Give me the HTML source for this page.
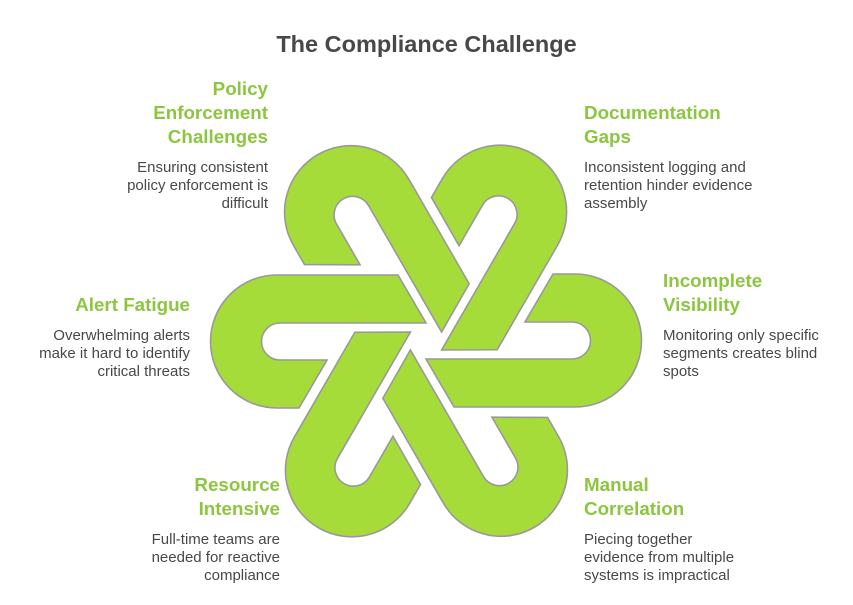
<!DOCTYPE html>
<html><head><style>
body{margin:0;width:853px;height:605px;background:#fff;font-family:"Liberation Sans",sans-serif;position:relative;overflow:hidden}
.t{position:absolute;left:0;width:853px;text-align:center;top:31px;font-size:23.5px;font-weight:bold;color:#484848}
.b{position:absolute;width:240px}
.b h{display:block;font-size:18.8px;font-weight:bold;color:#8cc63f;line-height:24px}
.b p{margin:10px 0 0;font-size:15px;line-height:18px;color:#484848}
.r{text-align:right}
</style></head><body>
<div class="t">The Compliance Challenge</div>
<svg width="853" height="605" style="position:absolute;left:0;top:0">
<defs><path id="p" d="M-149,-66 L-28,-66 L0,-18 L-146,-18 A18.5,18.5 0 0 0 -146,19 L-99,19 L-127,67 L-149,67 A66.5,66.5 0 0 1 -149,-66 Z" fill="#a6dc3a" stroke="#999" stroke-width="1.6"/></defs>
<g transform="translate(426,341)">
<use href="#p"/><use href="#p" transform="rotate(60)"/><use href="#p" transform="rotate(120)"/>
<use href="#p" transform="rotate(180)"/><use href="#p" transform="rotate(240)"/><use href="#p" transform="rotate(300)"/>
</g></svg>
<div class="b r" style="left:28px;top:77px"><h>Policy<br>Enforcement<br>Challenges</h><p>Ensuring consistent<br>policy enforcement is<br>difficult</p></div>
<div class="b" style="left:584px;top:101px"><h>Documentation<br>Gaps</h><p>Inconsistent logging and<br>retention hinder evidence<br>assembly</p></div>
<div class="b r" style="left:-50px;top:293px"><h>Alert Fatigue</h><p>Overwhelming alerts<br>make it hard to identify<br>critical threats</p></div>
<div class="b" style="left:663px;top:269px"><h>Incomplete<br>Visibility</h><p>Monitoring only specific<br>segments creates blind<br>spots</p></div>
<div class="b r" style="left:40px;top:473px"><h>Resource<br>Intensive</h><p>Full-time teams are<br>needed for reactive<br>compliance</p></div>
<div class="b" style="left:584px;top:473px"><h>Manual<br>Correlation</h><p>Piecing together<br>evidence from multiple<br>systems is impractical</p></div>
</body></html>
